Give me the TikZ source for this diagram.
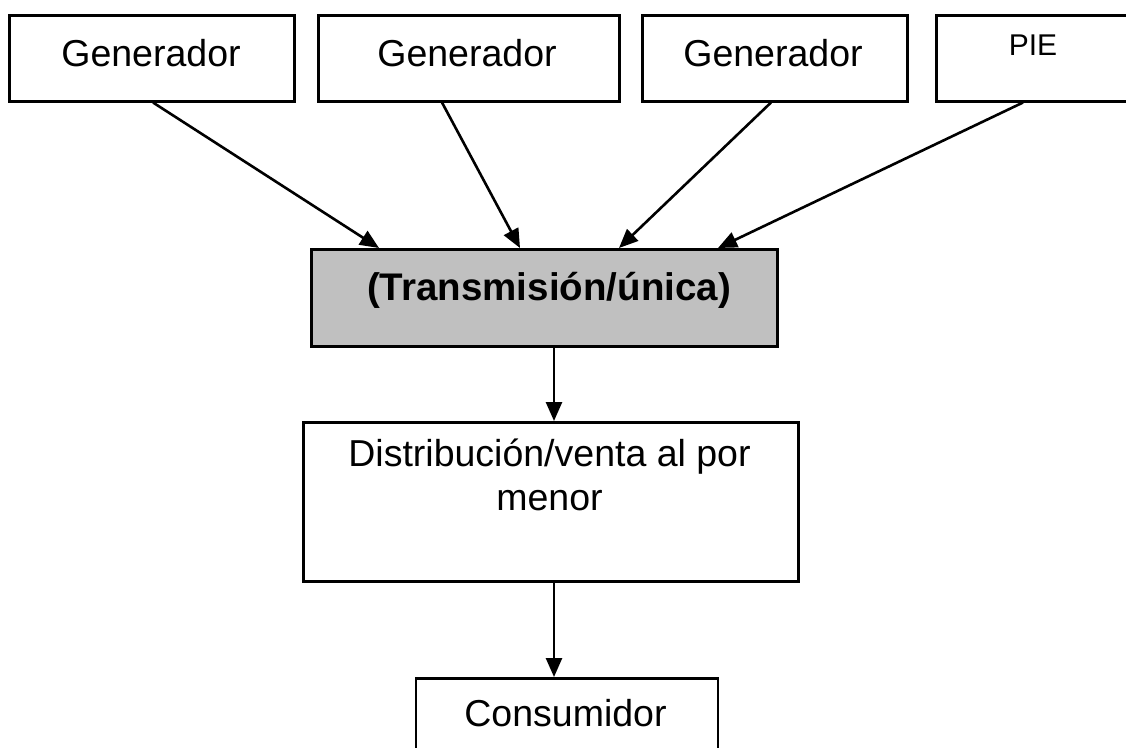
\documentclass[tikz,border=0pt]{standalone}
\usepackage{fontspec}
\setmainfont{Liberation Sans}
\usetikzlibrary{arrows.meta}
\begin{document}
\begin{tikzpicture}[x=1pt,y=-1pt,
  box/.style={draw=black,line width=2.5pt,rectangle,inner sep=0pt,anchor=north west},
  gray box/.style={box,fill=graybox},
  lbl/.style={anchor=base,inner sep=0pt,font=\fontsize{37.5}{43.5}\selectfont,align=center},
  conn/.style={line width=2.6pt,-{Triangle[length=19pt,width=16pt]}}
]
\definecolor{graybox}{HTML}{C0C0C0}
\useasboundingbox (0,0) rectangle (1126,747);
\clip (0,0) rectangle (1126,747);
% top row
\node[box,minimum width=285pt,minimum height=86pt] (g1) at (8,14) {};
\node[box,minimum width=301pt,minimum height=86pt] (g2) at (317,14) {};
\node[box,minimum width=265pt,minimum height=86pt] (g3) at (641,14) {};
\node[box,minimum width=200pt,minimum height=86pt] (pie) at (935,14) {};
\node[lbl] (g1t) at (151,66) {Generador};
\node[lbl] (g2t) at (467,66) {Generador};
\node[lbl] (g3t) at (773,66) {Generador};
\node[lbl,font=\fontsize{30}{35}\selectfont] (piet) at (1033,55) {PIE};
% transmission
\node[gray box,minimum width=466pt,minimum height=97pt] (tr) at (310,248) {};
\node[lbl,font=\fontsize{38.5}{43.5}\selectfont\bfseries] (trt) at (549,300) {(Transmisión/única)};
% distribution
\node[box,minimum width=495pt,minimum height=159pt] (dist) at (302,421) {};
\node[lbl] (distt) at (549.5,510) {Distribución/venta al por\\menor};
% consumer
\node[box,minimum width=302pt,minimum height=120pt] (cons) at (414.5,677) {};
\node[lbl] (const) at (565.5,726) {Consumidor};
% connectors
\draw[conn] ([xshift=145pt]g1.south west) -- ([xshift=69pt]tr.north west);
\draw[conn] ([xshift=125pt]g2.south west) -- ([xshift=210pt]tr.north west);
\draw[conn] ([xshift=130pt]g3.south west) -- ([xshift=309pt]tr.north west);
\draw[conn] ([xshift=88pt]pie.south west) -- ([xshift=408pt]tr.north west);
\draw[conn] ([xshift=244pt]tr.south west) -- ([xshift=252pt]dist.north west);
\draw[conn] ([xshift=252pt]dist.south west) -- ([xshift=139.5pt]cons.north west);
\end{tikzpicture}
\end{document}
